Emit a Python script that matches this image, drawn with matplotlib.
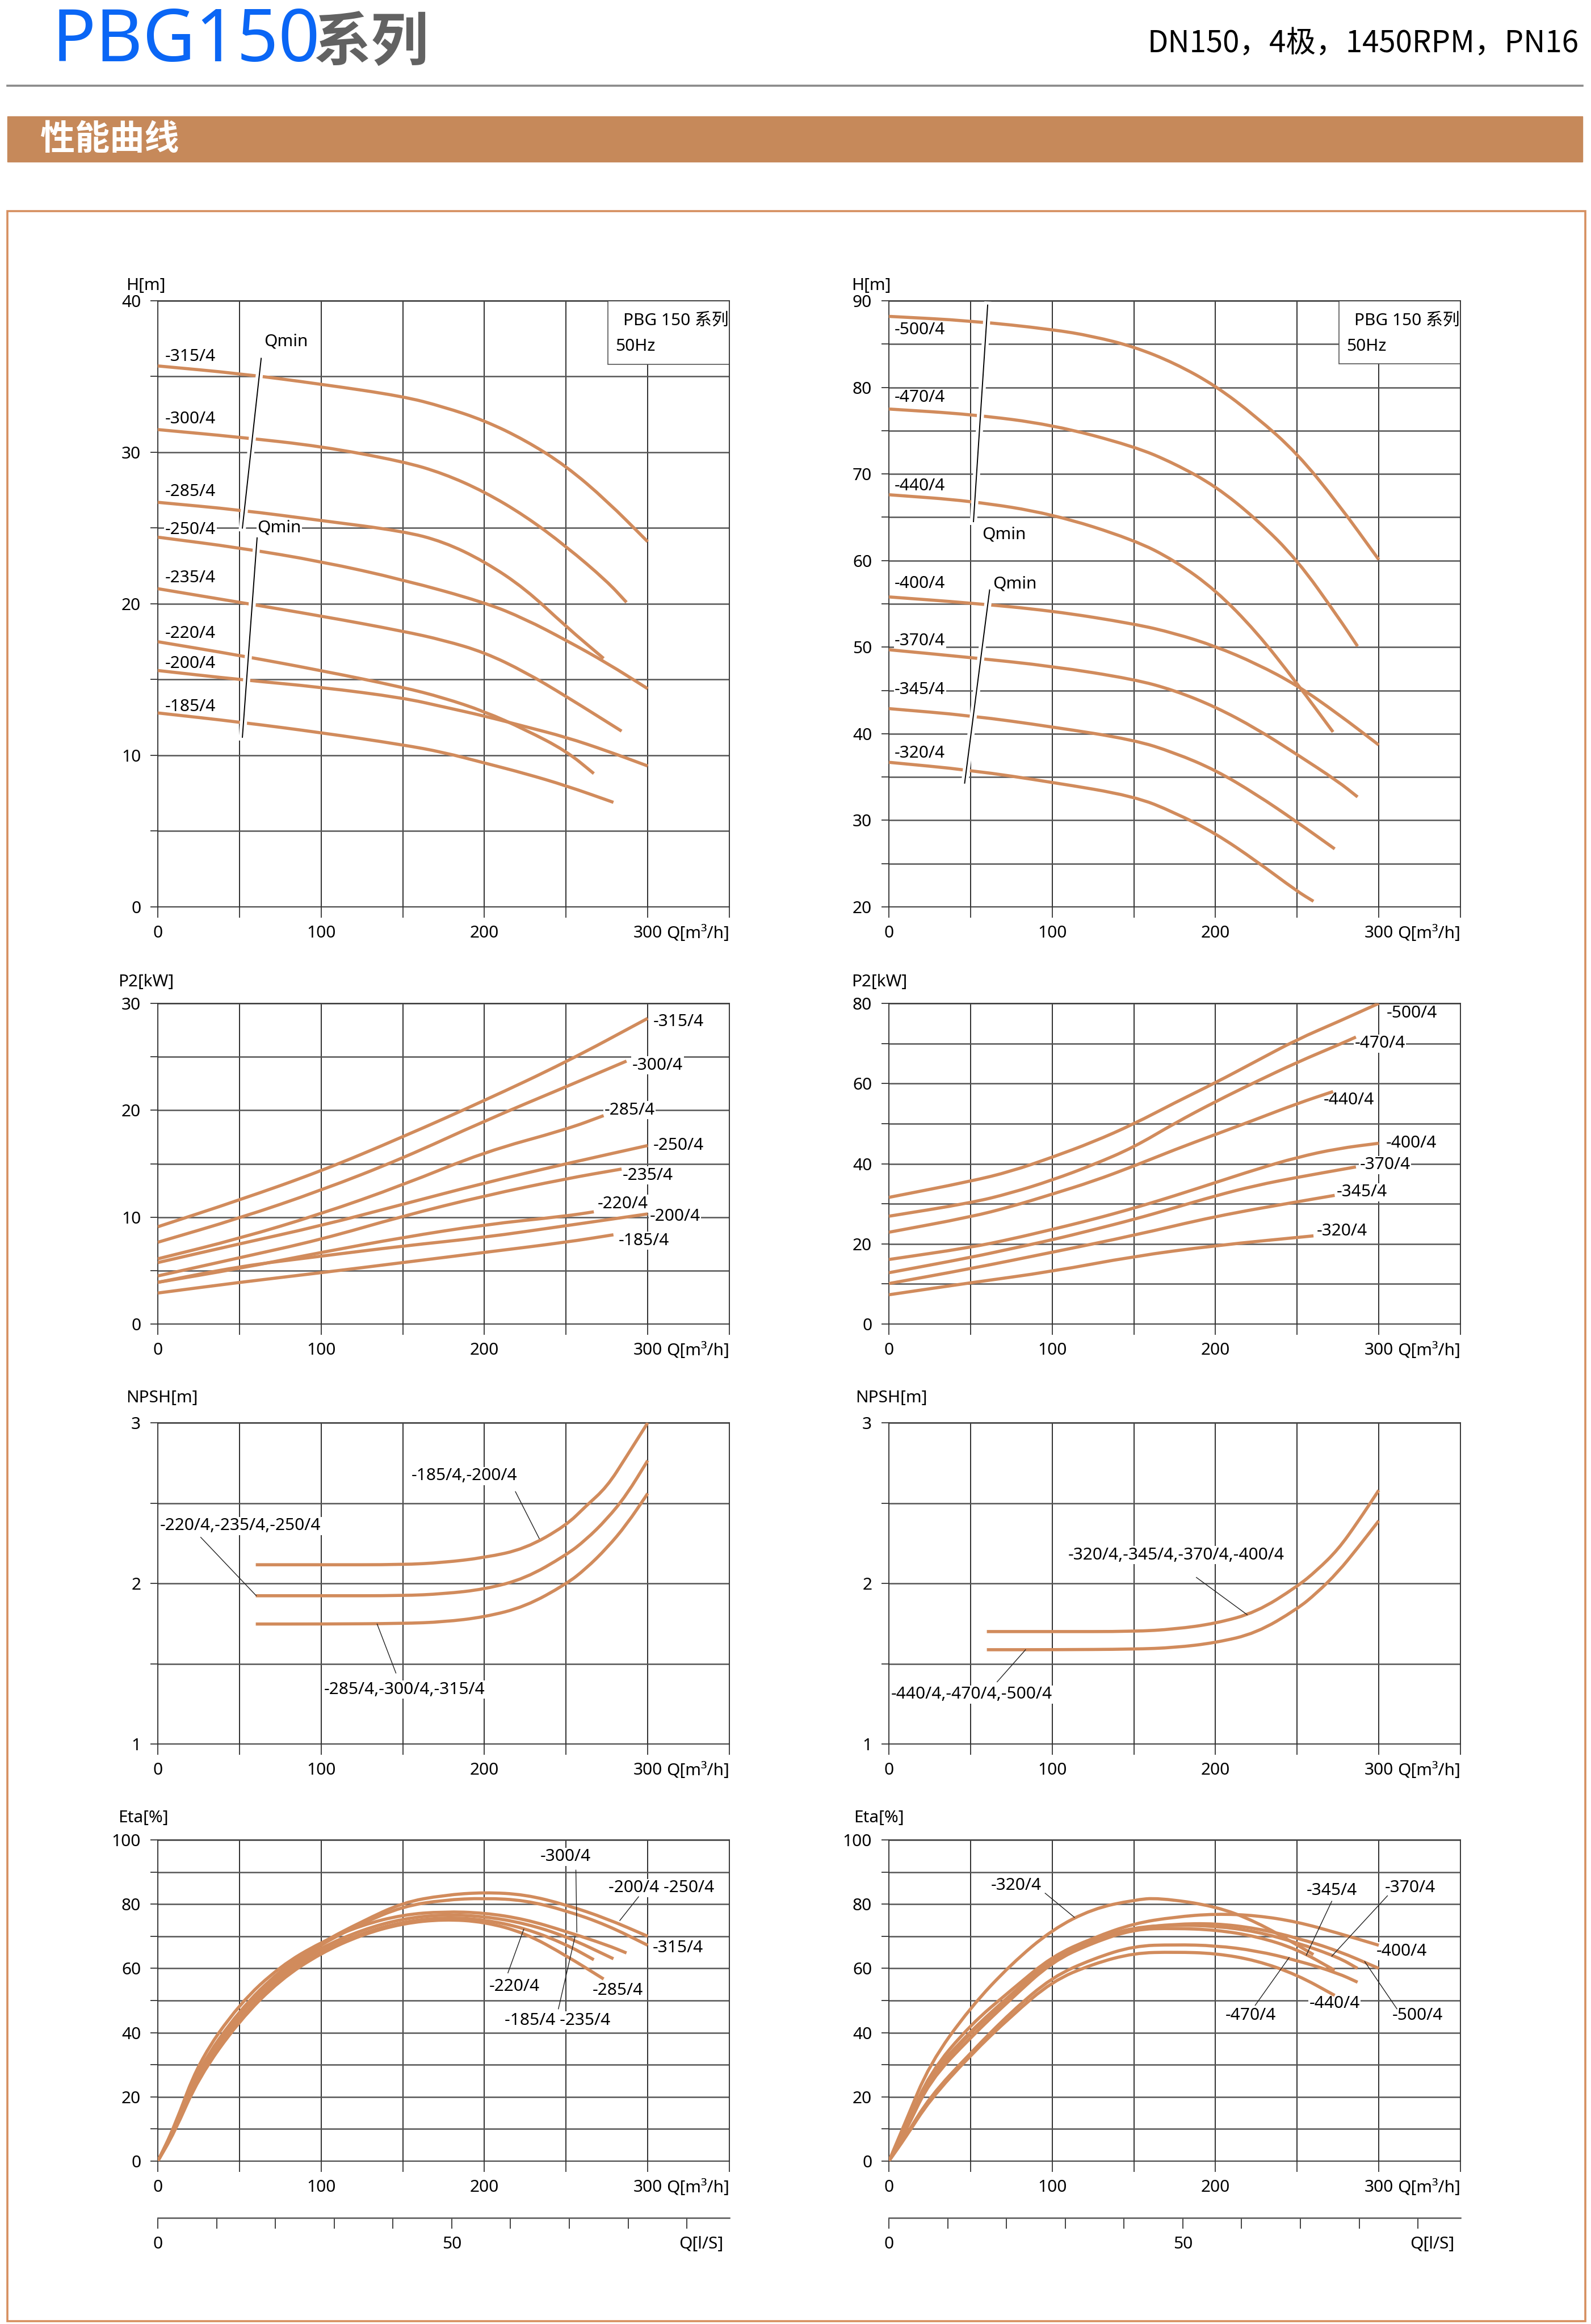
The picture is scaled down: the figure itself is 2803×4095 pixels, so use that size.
import numpy as np
import matplotlib
matplotlib.use('Agg')
import matplotlib.pyplot as plt
from matplotlib.patches import Rectangle, PathPatch
from matplotlib.lines import Line2D
from matplotlib.path import Path
import matplotlib.patheffects as pe

plt.rcParams['font.family'] = ['Noto Sans', 'Noto Sans CJK SC', 'DejaVu Sans']

W, H = 2803, 4095
CURVE = '#d18b5c'
FS = 21.5

# ---- H(Q) left : Q [m3/h], H [m]
h_left = {
    '-315/4': ([0, 50, 100, 150, 175, 200, 225, 250, 275, 300],
               [35.7, 35.2, 34.5, 33.7, 33.0, 32.1, 30.8, 29.1, 26.8, 24.1]),
    '-300/4': ([0, 50, 100, 150, 175, 200, 225, 250, 275, 287],
               [31.5, 31.0, 30.4, 29.4, 28.6, 27.4, 25.8, 23.8, 21.5, 20.1]),
    '-285/4': ([0, 50, 100, 150, 175, 200, 225, 250, 273],
               [26.7, 26.2, 25.5, 24.8, 24.1, 22.8, 21.0, 18.5, 16.4]),
    '-250/4': ([0, 50, 100, 150, 200, 225, 250, 275, 300],
               [24.4, 23.7, 22.8, 21.6, 20.1, 19.0, 17.6, 16.1, 14.4]),
    '-235/4': ([0, 50, 100, 150, 175, 200, 225, 250, 284],
               [21.0, 20.1, 19.2, 18.2, 17.6, 16.8, 15.5, 13.9, 11.6]),
    '-220/4': ([0, 50, 100, 150, 175, 200, 225, 250, 267],
               [17.5, 16.6, 15.6, 14.5, 13.8, 12.9, 11.7, 10.3, 8.8]),
    '-200/4': ([0, 50, 100, 150, 175, 200, 225, 250, 275, 300],
               [15.6, 15.0, 14.5, 13.8, 13.2, 12.6, 11.9, 11.2, 10.3, 9.3]),
    '-185/4': ([0, 50, 100, 150, 175, 200, 225, 250, 279],
               [12.8, 12.2, 11.5, 10.7, 10.2, 9.5, 8.8, 8.0, 6.9]),
}
h_left_label_y = [36.3, 32.2, 27.4, 24.9, 21.7, 18.05, 16.05, 13.2]

# ---- H(Q) right
h_right = {
    '-500/4': ([0, 50, 100, 125, 150, 175, 200, 225, 250, 275, 300],
               [88.2, 87.7, 86.7, 85.9, 84.7, 82.8, 80.2, 76.6, 72.4, 66.6, 60.1]),
    '-470/4': ([0, 50, 100, 150, 175, 200, 225, 250, 275, 287],
               [77.5, 76.9, 75.7, 73.2, 71.2, 68.6, 64.8, 60.1, 53.5, 50.1]),
    '-440/4': ([0, 50, 100, 150, 175, 200, 225, 250, 272],
               [67.6, 66.9, 65.4, 62.4, 60.0, 56.6, 51.8, 45.8, 40.2]),
    '-400/4': ([0, 50, 100, 150, 175, 200, 225, 250, 275, 300],
               [55.8, 55.1, 54.2, 52.7, 51.6, 50.1, 48.1, 45.6, 42.3, 38.7]),
    '-370/4': ([0, 50, 100, 150, 175, 200, 225, 250, 275, 287],
               [49.7, 48.8, 47.8, 46.3, 45.0, 43.1, 40.6, 37.6, 34.5, 32.7]),
    '-345/4': ([0, 50, 100, 150, 175, 200, 225, 250, 273],
               [42.9, 42.1, 40.8, 39.3, 37.8, 35.8, 33.0, 29.8, 26.7]),
    '-320/4': ([0, 50, 100, 150, 175, 200, 225, 250, 260],
               [36.7, 35.8, 34.4, 32.8, 30.9, 28.5, 25.3, 21.8, 20.65]),
}
h_right_label_y = [86.6, 78.8, 68.6, 57.3, 50.7, 45.1, 37.7]

# ---- P2(Q) left : kW
p_left = {
    '-315/4': ([0, 50, 100, 150, 200, 250, 300], [9.1, 11.6, 14.3, 17.5, 20.9, 24.5, 28.6]),
    '-300/4': ([0, 50, 100, 150, 200, 250, 287], [7.65, 9.9, 12.5, 15.5, 19.0, 22.2, 24.6]),
    '-285/4': ([0, 50, 100, 150, 200, 250, 273], [6.1, 8.0, 10.3, 13.0, 16.1, 18.2, 19.5]),
    '-250/4': ([0, 50, 100, 150, 200, 250, 300], [5.75, 7.5, 9.2, 11.2, 13.2, 15.0, 16.7]),
    '-235/4': ([0, 50, 100, 150, 200, 250, 284], [4.5, 6.2, 7.9, 10.1, 12.0, 13.6, 14.5]),
    '-220/4': ([0, 50, 100, 150, 200, 250, 267], [3.9, 5.2, 6.7, 8.1, 9.3, 10.1, 10.5]),
    '-200/4': ([0, 50, 100, 150, 200, 250, 300], [3.9, 5.4, 6.35, 7.3, 8.1, 9.2, 10.3]),
    '-185/4': ([0, 50, 100, 150, 200, 250, 279], [2.9, 3.9, 4.8, 5.75, 6.7, 7.65, 8.35]),
}
p_left_labels = [(303.3, 28.3), (290.5, 24.2), (273.4, 20.0), (303.3, 16.7),
                 (284.7, 13.9), (269.3, 11.25), (301.2, 10.07), (282.0, 7.8)]

# ---- P2(Q) right
p_right = {
    '-500/4': ([0, 50, 75, 100, 125, 150, 175, 200, 225, 250, 275, 300],
               [31.6, 35.6, 38.1, 41.6, 45.4, 49.9, 55.2, 60.2, 65.6, 71.0, 75.4, 80.0]),
    '-470/4': ([0, 50, 75, 100, 125, 150, 175, 200, 225, 250, 275, 286],
               [26.9, 30.2, 32.7, 35.9, 39.7, 44.1, 50.1, 55.5, 60.5, 65.3, 69.6, 71.6]),
    '-440/4': ([0, 50, 75, 100, 125, 150, 175, 200, 225, 250, 272],
               [22.9, 26.7, 29.3, 32.4, 35.6, 39.4, 43.5, 47.3, 51.1, 55.0, 58.0]),
    '-400/4': ([0, 50, 75, 100, 125, 150, 175, 200, 225, 250, 275, 300],
               [16.1, 19.1, 21.2, 23.6, 26.1, 28.9, 32.0, 35.3, 38.6, 41.6, 43.8, 45.1]),
    '-370/4': ([0, 50, 75, 100, 125, 150, 175, 200, 225, 250, 286],
               [12.8, 16.6, 18.8, 21.0, 23.5, 26.1, 29.0, 32.0, 34.6, 36.6, 39.2]),
    '-345/4': ([0, 50, 100, 150, 200, 250, 273], [10.1, 13.8, 17.9, 22.1, 26.9, 30.5, 32.1]),
    '-320/4': ([0, 50, 100, 150, 200, 260], [7.3, 10.3, 13.1, 16.9, 19.6, 22.0]),
}
p_right_labels = [(304.8, 77.5), (285.2, 70.0), (266.0, 55.8), (304.3, 45.1),
                  (288.3, 39.7), (274.2, 32.9), (262.0, 23.1)]

# ---- NPSH(Q)
npsh_left_q = [60, 100, 150, 175, 200, 225, 250, 262, 275, 287, 300]
npsh_left = [
    [2.116, 2.116, 2.116, 2.13, 2.16, 2.215, 2.36, 2.48, 2.60, 2.79, 3.0],
    [1.923, 1.923, 1.923, 1.935, 1.963, 2.03, 2.176, 2.27, 2.40, 2.55, 2.765],
    [1.747, 1.747, 1.75, 1.76, 1.79, 1.855, 1.995, 2.09, 2.22, 2.365, 2.56],
]
npsh_right_q = [60, 100, 150, 175, 200, 225, 250, 262, 275, 287, 300]
npsh_right = [
    [1.70, 1.70, 1.70, 1.715, 1.75, 1.82, 1.98, 2.08, 2.21, 2.38, 2.58],
    [1.587, 1.587, 1.59, 1.60, 1.63, 1.69, 1.84, 1.94, 2.07, 2.22, 2.39],
]

# ---- Eta(Q) left : %
eta_left = {
    'A': ([0, 10, 25, 50, 75, 100, 125, 150, 175, 200, 225, 250, 275, 300],
          [0, 10, 29, 47, 59.5, 68, 74.6, 80.5, 82.8, 83.7, 83, 79.8, 75.5, 70]),
    'B': ([0, 10, 25, 50, 75, 100, 125, 150, 175, 200, 225, 250, 275, 300],
          [0, 9.6, 28, 46, 59, 67.5, 74, 79.3, 81.3, 81.9, 81.2, 78, 73.5, 67.2]),
    'C': ([0, 10, 25, 50, 75, 100, 125, 150, 175, 200, 225, 250, 275, 287],
          [0, 10.5, 31, 49, 60.7, 68.2, 73.5, 76.7, 77.7, 77.3, 75.3, 71.5, 67.3, 64.8]),
    'D': ([0, 10, 25, 50, 75, 100, 125, 150, 175, 200, 225, 250, 279],
          [0, 9.5, 29, 46, 58.5, 66.5, 72, 75.5, 76.8, 76.2, 74, 70, 63]),
    'E': ([0, 10, 25, 50, 75, 100, 125, 150, 175, 200, 225, 250, 267],
          [0, 9, 27.5, 44.5, 57.5, 65.5, 71, 74.5, 75.9, 75.2, 72.5, 67.5, 62.7]),
    'F': ([0, 10, 25, 50, 75, 100, 125, 150, 175, 200, 225, 250, 273],
          [0, 8.7, 26, 43.8, 56.5, 64.8, 70.5, 74, 75.3, 74.5, 71, 64, 56.7]),
}

# ---- Eta(Q) right
eta_right = {
    '-320/4': ([0, 10, 25, 50, 75, 100, 125, 150, 165, 200, 225, 250, 260],
               [0, 12, 30.3, 47.9, 61.4, 72.1, 78.6, 81.3, 82, 79.4, 74.5, 67.3, 64.3]),
    '-400/4': ([0, 10, 25, 50, 75, 100, 125, 150, 175, 200, 225, 250, 275, 300],
               [0, 10, 27.5, 42.5, 53.3, 63.8, 69.5, 74, 76, 77, 76.5, 74.5, 71, 67.2]),
    '-500/4': ([0, 10, 25, 50, 75, 100, 125, 150, 175, 200, 225, 250, 275, 300],
               [0, 9.5, 26, 40, 51.5, 62.5, 68.5, 72.5, 73.8, 74, 72.5, 69.5, 65.5, 60]),
    '-370/4': ([0, 10, 25, 50, 75, 100, 125, 150, 175, 200, 225, 250, 275, 287],
               [0, 9.5, 26.5, 40.5, 52, 63, 69, 72.8, 73.5, 73.2, 71.5, 68, 63.5, 60]),
    '-345/4': ([0, 10, 25, 50, 75, 100, 125, 150, 175, 200, 225, 250, 273],
               [0, 9, 25, 38.5, 50.6, 62.1, 68, 72.2, 72.5, 72, 70, 66, 59.4]),
    '-470/4': ([0, 10, 25, 50, 75, 100, 125, 150, 175, 200, 225, 250, 275, 287],
               [0, 7.6, 20, 33.7, 46.5, 57.3, 63, 67, 67.4, 67.1, 65.5, 62.5, 58.5, 55.7]),
    '-440/4': ([0, 10, 25, 50, 75, 100, 125, 150, 175, 200, 225, 250, 273],
               [0, 7.2, 19, 33, 45.2, 56, 61.4, 64.8, 65.1, 64.7, 62.5, 58, 51.6]),
}

fig = plt.figure(figsize=(W / 100, H / 100), dpi=100)


def rect(l, t, r, b):
    return [l / W, 1 - b / H, (r - l) / W, (b - t) / H]


def fx(x):
    return x / W


def fy(y):
    return 1 - y / H


def make_axes(l, t, r, b, ylim, ymajor, yminor, unit, ux, uy):
    ax = fig.add_axes(rect(l, t, r, b))
    ax.set_xlim(0, 350)
    ax.set_ylim(*ylim)
    ax.set_xticks([0, 100, 200, 300, 350])
    ax.set_xticklabels(['0', '100', '200', '300', 'Q[m³/h]'])
    ax.get_xticklabels()[-1].set_ha('right')
    ax.set_xticks([50, 150, 250], minor=True)
    ax.set_yticks(ymajor)
    ax.set_yticks(yminor, minor=True)
    ax.xaxis.grid(True, which='both', color='#1e1e1e', lw=1.3)
    ax.yaxis.grid(True, which='both', color='#555555', lw=1.8)
    ax.set_axisbelow(True)
    ax.tick_params(which='both', direction='out', labelsize=FS, width=1.3, color='#333333')
    ax.tick_params(axis='x', which='both', length=14, pad=9)
    ax.tick_params(axis='y', which='both', length=9.5, pad=12)
    for s in ax.spines.values():
        s.set_color('#333333')
        s.set_linewidth(1.3)
    fig.text(fx(l + ux), fy(t - uy), unit, fontsize=FS, va='center')
    return ax


def curve(ax, q, v):
    # smooth drawing of the read points (quadratic bezier through segment midpoints)
    pts = np.column_stack([q, v]).astype(float)
    verts = [pts[0], (pts[0] + pts[1]) / 2]
    codes = [Path.MOVETO, Path.LINETO]
    for i in range(1, len(pts) - 1):
        verts += [pts[i], (pts[i] + pts[i + 1]) / 2]
        codes += [Path.CURVE3, Path.CURVE3]
    verts.append(pts[-1])
    codes.append(Path.LINETO)
    ax.add_patch(PathPatch(Path(verts, codes), fill=False, ec=CURVE, lw=4.0,
                           capstyle='butt', joinstyle='round', zorder=4))


def label(ax, x, y, s, bg=True, ha='left'):
    kw = dict(fontsize=FS, ha=ha, va='center', zorder=3)
    if bg:
        kw['bbox'] = dict(fc='white', ec='none', pad=1.0)
    ax.text(x, y, s, **kw)


def leader(ax, x0, y0, x1, y1):
    ax.plot([x0, x1], [y0, y1], color='#222222', lw=1.0, zorder=5)


def qmin(ax, x0, y0, x1, y1):
    ax.plot([x0, x1], [y0, y1], color='black', lw=1.4, zorder=6,
            path_effects=[pe.withStroke(linewidth=9, foreground='white')])


def series_box(ax, y0, y1, ytxt1, ytxt2):
    ax.add_patch(Rectangle((275.5, y0), 74.5, y1 - y0, fc='white', ec='#555555', lw=1.2, zorder=2.5))
    ax.text(285, ytxt1, 'PBG 150 系列', fontsize=FS, va='center', zorder=3)
    ax.text(280, ytxt2, '50Hz', fontsize=FS, va='center', zorder=3)


# ---------------- header ----------------
fig.text(fx(92), fy(108), 'PBG150', color='#0a66f5', fontsize=92, va='baseline')
fig.text(fx(552), fy(106), '系列', color='#626262', fontsize=73, fontweight='bold',
         va='baseline', family=['Noto Sans CJK SC'])
fig.text(fx(2782), fy(77), 'DN150，4极，1450RPM，PN16', fontsize=38, ha='right', va='center',
         family=['Noto Sans CJK SC', 'DejaVu Sans'])
fig.add_artist(Line2D([fx(13), fx(2788)], [fy(151), fy(151)], color='#8a8a8a', lw=2.6))
fig.add_artist(Rectangle((fx(13), fy(285)), (2788 - 13) / W, 80 / H, color='#c6895a'))
fig.text(fx(71), fy(246), '性能曲线', color='white', fontsize=44, fontweight='bold',
         va='center', family=['Noto Sans CJK SC'])
fig.add_artist(Rectangle((fx(13), fy(4090)), (2793 - 13) / W, (4090 - 372) / H,
                         fill=False, ec='#d68f5f', lw=2.6))

LX = (278, 1285)
RX = (1566, 2573)

# ---------------- H charts ----------------
ax = make_axes(LX[0], 530, LX[1], 1598, (0, 40), range(0, 41, 10), range(5, 40, 10), 'H[m]', -56, 26)
for (name, (q, v)), ly in zip(h_left.items(), h_left_label_y):
    curve(ax, q, v)
    label(ax, 4.5, ly, name, bg=(name == '-250/4'))
qmin(ax, 63.3, 36.2, 51.8, 25.0)
qmin(ax, 60.8, 24.35, 51.8, 11.2)
label(ax, 65, 37.3, 'Qmin', bg=False)
label(ax, 61, 25.0, 'Qmin')
series_box(ax, 35.8, 40, 38.7, 37.0)

ax = make_axes(RX[0], 530, RX[1], 1598, (20, 90), range(20, 91, 10), range(25, 90, 10), 'H[m]', -66, 26)
for (name, (q, v)), ly in zip(h_right.items(), h_right_label_y):
    curve(ax, q, v)
    label(ax, 3.5, ly, name, bg=name in ('-370/4', '-345/4'))
qmin(ax, 60.5, 89.5, 51.8, 64.5)
qmin(ax, 61.7, 56.6, 46.4, 34.3)
label(ax, 57, 63.0, 'Qmin', bg=False)
label(ax, 63.5, 57.3, 'Qmin', bg=False)
series_box(ax, 82.7, 90, 87.7, 84.7)

# ---------------- P2 charts ----------------
ax = make_axes(LX[0], 1768, LX[1], 2333, (0, 30), range(0, 31, 10), range(5, 30, 10), 'P2[kW]', -70, 38)
for (name, (q, v)), (lx, ly) in zip(p_left.items(), p_left_labels):
    curve(ax, q, v)
    label(ax, lx, ly, name)

ax = make_axes(RX[0], 1768, RX[1], 2333, (0, 80), range(0, 81, 20), range(10, 80, 20), 'P2[kW]', -66, 38)
for (name, (q, v)), (lx, ly) in zip(p_right.items(), p_right_labels):
    curve(ax, q, v)
    label(ax, lx, ly, name)

# ---------------- NPSH charts ----------------
ax = make_axes(LX[0], 2507, LX[1], 3073, (1, 3), [1, 2, 3], [1.5, 2.5], 'NPSH[m]', -56, 44)
for v in npsh_left:
    curve(ax, npsh_left_q, v)
label(ax, 155.2, 2.668, '-185/4,-200/4')
leader(ax, 219, 2.571, 233.6, 2.279)
label(ax, 1.3, 2.358, '-220/4,-235/4,-250/4')
leader(ax, 26.3, 2.287, 60.3, 1.923)
label(ax, 101.6, 1.339, '-285/4,-300/4,-315/4')
leader(ax, 134.3, 1.747, 145.8, 1.442)

ax = make_axes(RX[0], 2507, RX[1], 3073, (1, 3), [1, 2, 3], [1.5, 2.5], 'NPSH[m]', -59, 44)
for v in npsh_right:
    curve(ax, npsh_right_q, v)
label(ax, 109.7, 2.176, '-320/4,-345/4,-370/4,-400/4')
leader(ax, 188.3, 2.037, 219.4, 1.805)
label(ax, 1.3, 1.308, '-440/4,-470/4,-500/4')
leader(ax, 66.3, 1.387, 83.7, 1.587)


# ---------------- Eta charts ----------------
def ls_axis(l, r):
    axq = fig.add_axes(rect(l, 3907, r, 3908))
    axq.patch.set_visible(False)
    axq.set_xlim(0, 350 / 3.6)
    axq.set_ylim(0, 1)
    for s in ('top', 'left', 'right'):
        axq.spines[s].set_visible(False)
    axq.spines['bottom'].set_color('#555555')
    axq.spines['bottom'].set_linewidth(1.8)
    axq.set_yticks([])
    axq.set_xticks([0, 50, 96.2])
    axq.set_xticklabels(['0', '50', 'Q[l/S]'])
    axq.get_xticklabels()[-1].set_ha('right')
    axq.set_xticks([10, 20, 30, 40, 60, 70, 80, 90], minor=True)
    axq.xaxis.get_major_ticks()[-1].tick1line.set_visible(False)
    axq.tick_params(which='both', direction='out', length=14, width=1.3, color='#333333',
                    pad=9, labelsize=FS)


ax = make_axes(LX[0], 3242, LX[1], 3808, (0, 100), range(0, 101, 20), range(10, 100, 20), 'Eta[%]', -70, 39)
for name, (q, v) in eta_left.items():
    curve(ax, q, v)
label(ax, 249.7, 94.7, '-300/4', ha='center')
leader(ax, 256, 90.6, 256.6, 71.3)
label(ax, 308.4, 85.0, '-200/4 -250/4', ha='center')
leader(ax, 294.4, 82.3, 282.9, 74.9)
label(ax, 318.6, 66.3, '-315/4', ha='center')
label(ax, 218.5, 54.3, '-220/4', ha='center')
leader(ax, 214.4, 58.6, 224.1, 72.2)
label(ax, 281.6, 53.1, '-285/4', ha='center')
label(ax, 244.6, 43.8, '-185/4 -235/4', ha='center')
leader(ax, 245.3, 47.4, 255.5, 69.9)
ls_axis(LX[0], LX[1])

ax = make_axes(RX[0], 3242, RX[1], 3808, (0, 100), range(0, 101, 20), range(10, 100, 20), 'Eta[%]', -62, 39)
for name, (q, v) in eta_right.items():
    curve(ax, q, v)
label(ax, 77.8, 85.7, '-320/4', ha='center')
leader(ax, 95.7, 83.4, 113.6, 75.9)
label(ax, 271.2, 84.1, '-345/4', ha='center')
leader(ax, 271.2, 80.9, 255.6, 64.1)
label(ax, 319.2, 85.0, '-370/4', ha='center')
leader(ax, 305.3, 82.6, 271.2, 63.8)
label(ax, 314.0, 65.3, '-400/4', ha='center')
label(ax, 272.9, 49.1, '-440/4', ha='center')
label(ax, 221.4, 45.3, '-470/4', ha='center')
leader(ax, 224.3, 48.5, 245.1, 63.4)
label(ax, 323.8, 45.3, '-500/4', ha='center')
leader(ax, 311.1, 47.4, 291.4, 62.1)
ls_axis(RX[0], RX[1])

fig.savefig('out.png', dpi=100)
